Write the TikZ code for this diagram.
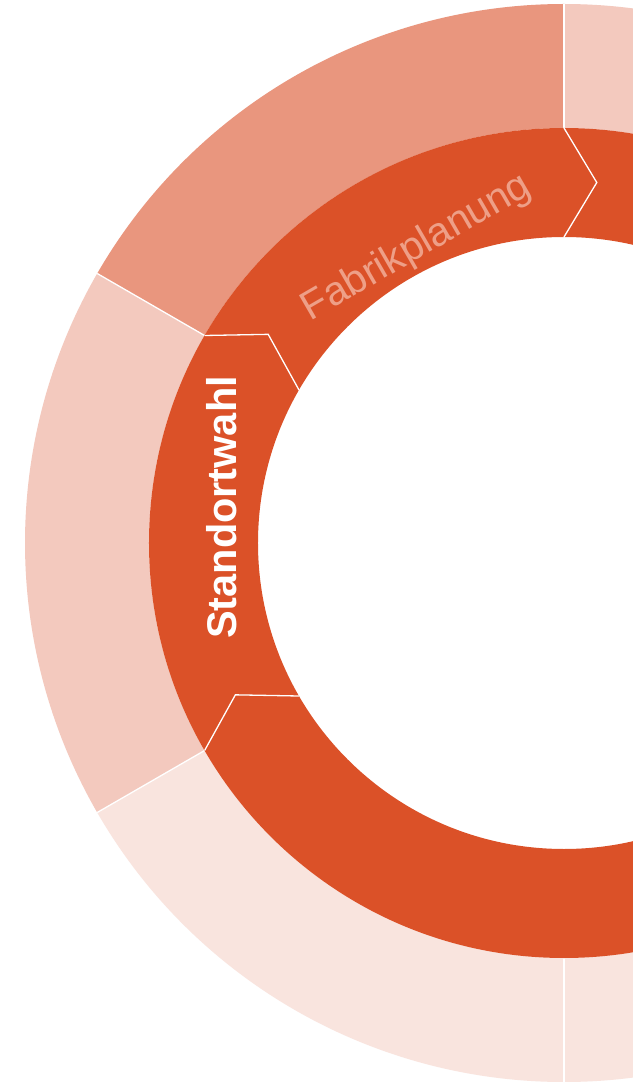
\documentclass[tikz,border=0pt]{standalone}
\usepackage{fontspec}
\setmainfont{Liberation Sans}
\definecolor{rost}{HTML}{DB5128}
\definecolor{lachs}{HTML}{E9967E}
\definecolor{hell}{HTML}{F3C9BE}
\definecolor{blass}{HTML}{F9E4DE}
\definecolor{schrift}{HTML}{EE9F87}

\begin{document}
\begin{tikzpicture}[x=1pt, y=1pt,
	trenner/.style={white, line width=1.3pt, line join=miter},
	phase/.style={anchor=base, font=\fontsize{40.5}{48}\selectfont}]
	\useasboundingbox (-564,-539) rectangle (69,543);
	\clip (-564,-539) rectangle (69,543);
	\fill[white] (-564,-539) rectangle (69,543);

	% aeusserer Ring
	\foreach \a/\b/\farbe in {30/90/hell, 90/150/lachs, 150/210/hell, 210/270/blass, 270/330/blass, 330/390/blass}
		\fill[\farbe] (\a:415) arc[start angle=\a, end angle=\b, radius=415]
			-- (\b:539) arc[start angle=\b, end angle=\a, radius=539] -- cycle;
	\foreach \w in {90, 150, 210, 270}
		\draw[trenner] (\w:415) -- (\w:539);

	% innerer Ring mit Pfeilspitzen
	\fill[rost, even odd rule] (0,0) circle (415) (0,0) circle (306);
	\foreach \w in {90, 150, 210}
		\draw[trenner] (\w:415) -- (\w-5.2:362) -- (\w:306);

	\node[phase, rotate=30, text=schrift] (fabrik) at (-142,286) {Fabrikplanung};
	\node[phase, rotate=90, text=white, font=\bfseries\fontsize{41.5}{48}\selectfont] (standort) at (-327,35.5) {Standortwahl};
\end{tikzpicture}
\end{document}
